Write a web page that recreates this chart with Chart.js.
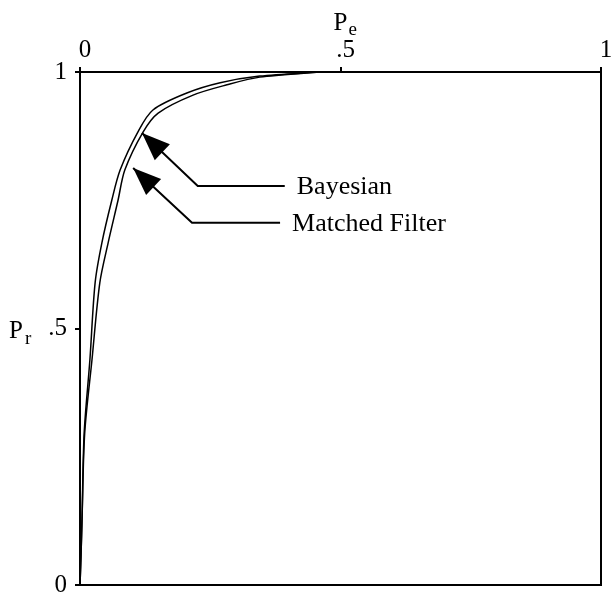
<!DOCTYPE html>
<html lang="en">
<head>
    <meta charset="UTF-8">
    <title>Pr versus Pe</title>
    <script src="https://cdn.jsdelivr.net/npm/chart.js@4.4.0/dist/chart.umd.min.js"></script>
    <style>
        html, body{
            margin: 0;
            padding: 0;
            background: #fff;
        }
    </style>
</head>
<body>
    <canvas id="chartCanvas" width="612" height="597"></canvas>

    <script>
        // curves (Pe, Pr)
        var bayesPe = [0, 0.002, 0.004, 0.008, 0.019, 0.029, 0.042, 0.061, 0.077, 0.111, 0.140, 0.205, 0.269, 0.345, 0.46];
        var bayesPr = [0, 0.06, 0.133, 0.296, 0.439, 0.589, 0.667, 0.750, 0.809, 0.883, 0.926, 0.959, 0.979, 0.992, 1.0];
        var matchedPe = [0, 0.002, 0.004, 0.009, 0.023, 0.038, 0.054, 0.073, 0.086, 0.121, 0.150, 0.217, 0.282, 0.345, 0.46];
        var matchedPr = [0, 0.06, 0.133, 0.296, 0.439, 0.589, 0.667, 0.750, 0.809, 0.883, 0.920, 0.955, 0.975, 0.990, 1.0];

        // callout arrows: tip, elbow, end of the leader line
        var bayesArrowPe = [0.119, 0.226, 0.393];
        var bayesArrowPr = [0.881, 0.778, 0.778];
        var matchedArrowPe = [0.102, 0.215, 0.384];
        var matchedArrowPr = [0.813, 0.706, 0.706];

        var tickValues = [0, 0.5, 1];
        var tickLabels = ['0', '.5', '1'];

        function toPoints(xs, ys){
            return xs.map(function(x, i){ return {x: x, y: ys[i]}; });
        }
        function tickText(v){
            var i = tickValues.indexOf(v);
            return i < 0 ? '' : tickLabels[i];
        }

        var serif = 'Liberation Serif, Times New Roman, serif';

        // frame, arrowheads, callout text and axis titles
        var extras = {
            id: 'extras',
            afterDatasetsDraw: function(chart){
                var c = chart.ctx;
                var a = chart.chartArea;
                c.save();
                c.strokeStyle = '#000';
                c.lineWidth = 2;
                c.strokeRect(a.left, a.top, a.right - a.left, a.bottom - a.top);

                chart.data.datasets.forEach(function(ds, i){
                    if(!ds.callout) return;
                    var pts = chart.getDatasetMeta(i).data;
                    var p0 = pts[0], p1 = pts[1], pn = pts[pts.length - 1];
                    var dx = p0.x - p1.x, dy = p0.y - p1.y;
                    var len = Math.sqrt(dx * dx + dy * dy);
                    var ux = dx / len, uy = dy / len;
                    var bx = p0.x - ux * 28, by = p0.y - uy * 28;
                    c.fillStyle = '#000';
                    c.beginPath();
                    c.moveTo(p0.x, p0.y);
                    c.lineTo(bx - uy * 11, by + ux * 11);
                    c.lineTo(bx + uy * 11, by - ux * 11);
                    c.closePath();
                    c.fill();

                    c.font = '26px ' + serif;
                    c.textAlign = 'left';
                    c.textBaseline = 'middle';
                    c.fillText(ds.callout, pn.x + 12, pn.y + 1);
                });

                // top axis title P_e
                var xs = chart.scales.x;
                var ys = chart.scales.y;
                var cx = xs.getPixelForValue(0.5);
                c.textAlign = 'left';
                c.textBaseline = 'alphabetic';
                c.font = '25px ' + serif;
                c.fillText('P', cx - 7, 30);
                c.font = '19px ' + serif;
                c.fillText('e', cx + 8, 35);

                // left axis title P_r beside .5
                var cy = ys.getPixelForValue(0.5);
                c.font = '25px ' + serif;
                c.fillText('P', 9, cy + 9);
                c.font = '19px ' + serif;
                c.fillText('r', 25, cy + 15);
                c.restore();
            }
        };

        var curveStyle = {
            showLine: true,
            fill: false,
            borderColor: '#000',
            borderWidth: 1.5,
            pointRadius: 0,
            tension: 0.3
        };
        var leaderStyle = {
            showLine: true,
            fill: false,
            borderColor: '#000',
            borderWidth: 2,
            pointRadius: 0,
            tension: 0
        };

        const ctx = document.getElementById('chartCanvas').getContext('2d');
        const chart = new Chart(ctx, {
            type: 'scatter',
            data: {
                datasets: [
                    Object.assign({label: 'Bayesian', data: toPoints(bayesPe, bayesPr)}, curveStyle),
                    Object.assign({label: 'Matched Filter', data: toPoints(matchedPe, matchedPr)}, curveStyle),
                    Object.assign({label: 'Bayesian arrow', callout: 'Bayesian', data: toPoints(bayesArrowPe, bayesArrowPr)}, leaderStyle),
                    Object.assign({label: 'Matched arrow', callout: 'Matched Filter', data: toPoints(matchedArrowPe, matchedArrowPr)}, leaderStyle)
                ]
            },
            options: {
                responsive: false,
                animation: false,
                layout: {
                    padding: {left: 0, right: 11, top: 0, bottom: 12}
                },
                plugins: {
                    legend: {display: false},
                    tooltip: {enabled: false}
                },
                scales: {
                    x: {
                        type: 'linear',
                        position: 'top',
                        min: 0,
                        max: 1,
                        afterFit: function(s){
                            s.height = 72;
                            s.paddingLeft = 0;
                            s.paddingRight = 0;
                        },
                        afterBuildTicks: function(s){ s.ticks = tickValues.map(function(v){ return {value: v}; }); },
                        grid: {drawOnChartArea: false, color: '#000', tickLength: 5, lineWidth: 2},
                        border: {display: false},
                        ticks: {
                            callback: tickText,
                            color: '#000',
                            font: {family: serif, size: 25},
                            padding: 2,
                            labelOffset: 5,
                            maxRotation: 0
                        }
                    },
                    y: {
                        type: 'linear',
                        min: 0,
                        max: 1,
                        afterFit: function(s){
                            s.width = 80;
                            s.paddingTop = 0;
                            s.paddingBottom = 0;
                        },
                        afterBuildTicks: function(s){ s.ticks = tickValues.map(function(v){ return {value: v}; }); },
                        grid: {drawOnChartArea: false, color: '#000', tickLength: 5, lineWidth: 2},
                        border: {display: false},
                        ticks: {
                            callback: tickText,
                            color: '#000',
                            font: {family: serif, size: 25},
                            padding: 8
                        }
                    }
                }
            },
            plugins: [extras]
        });
    </script>
</body>
</html>
